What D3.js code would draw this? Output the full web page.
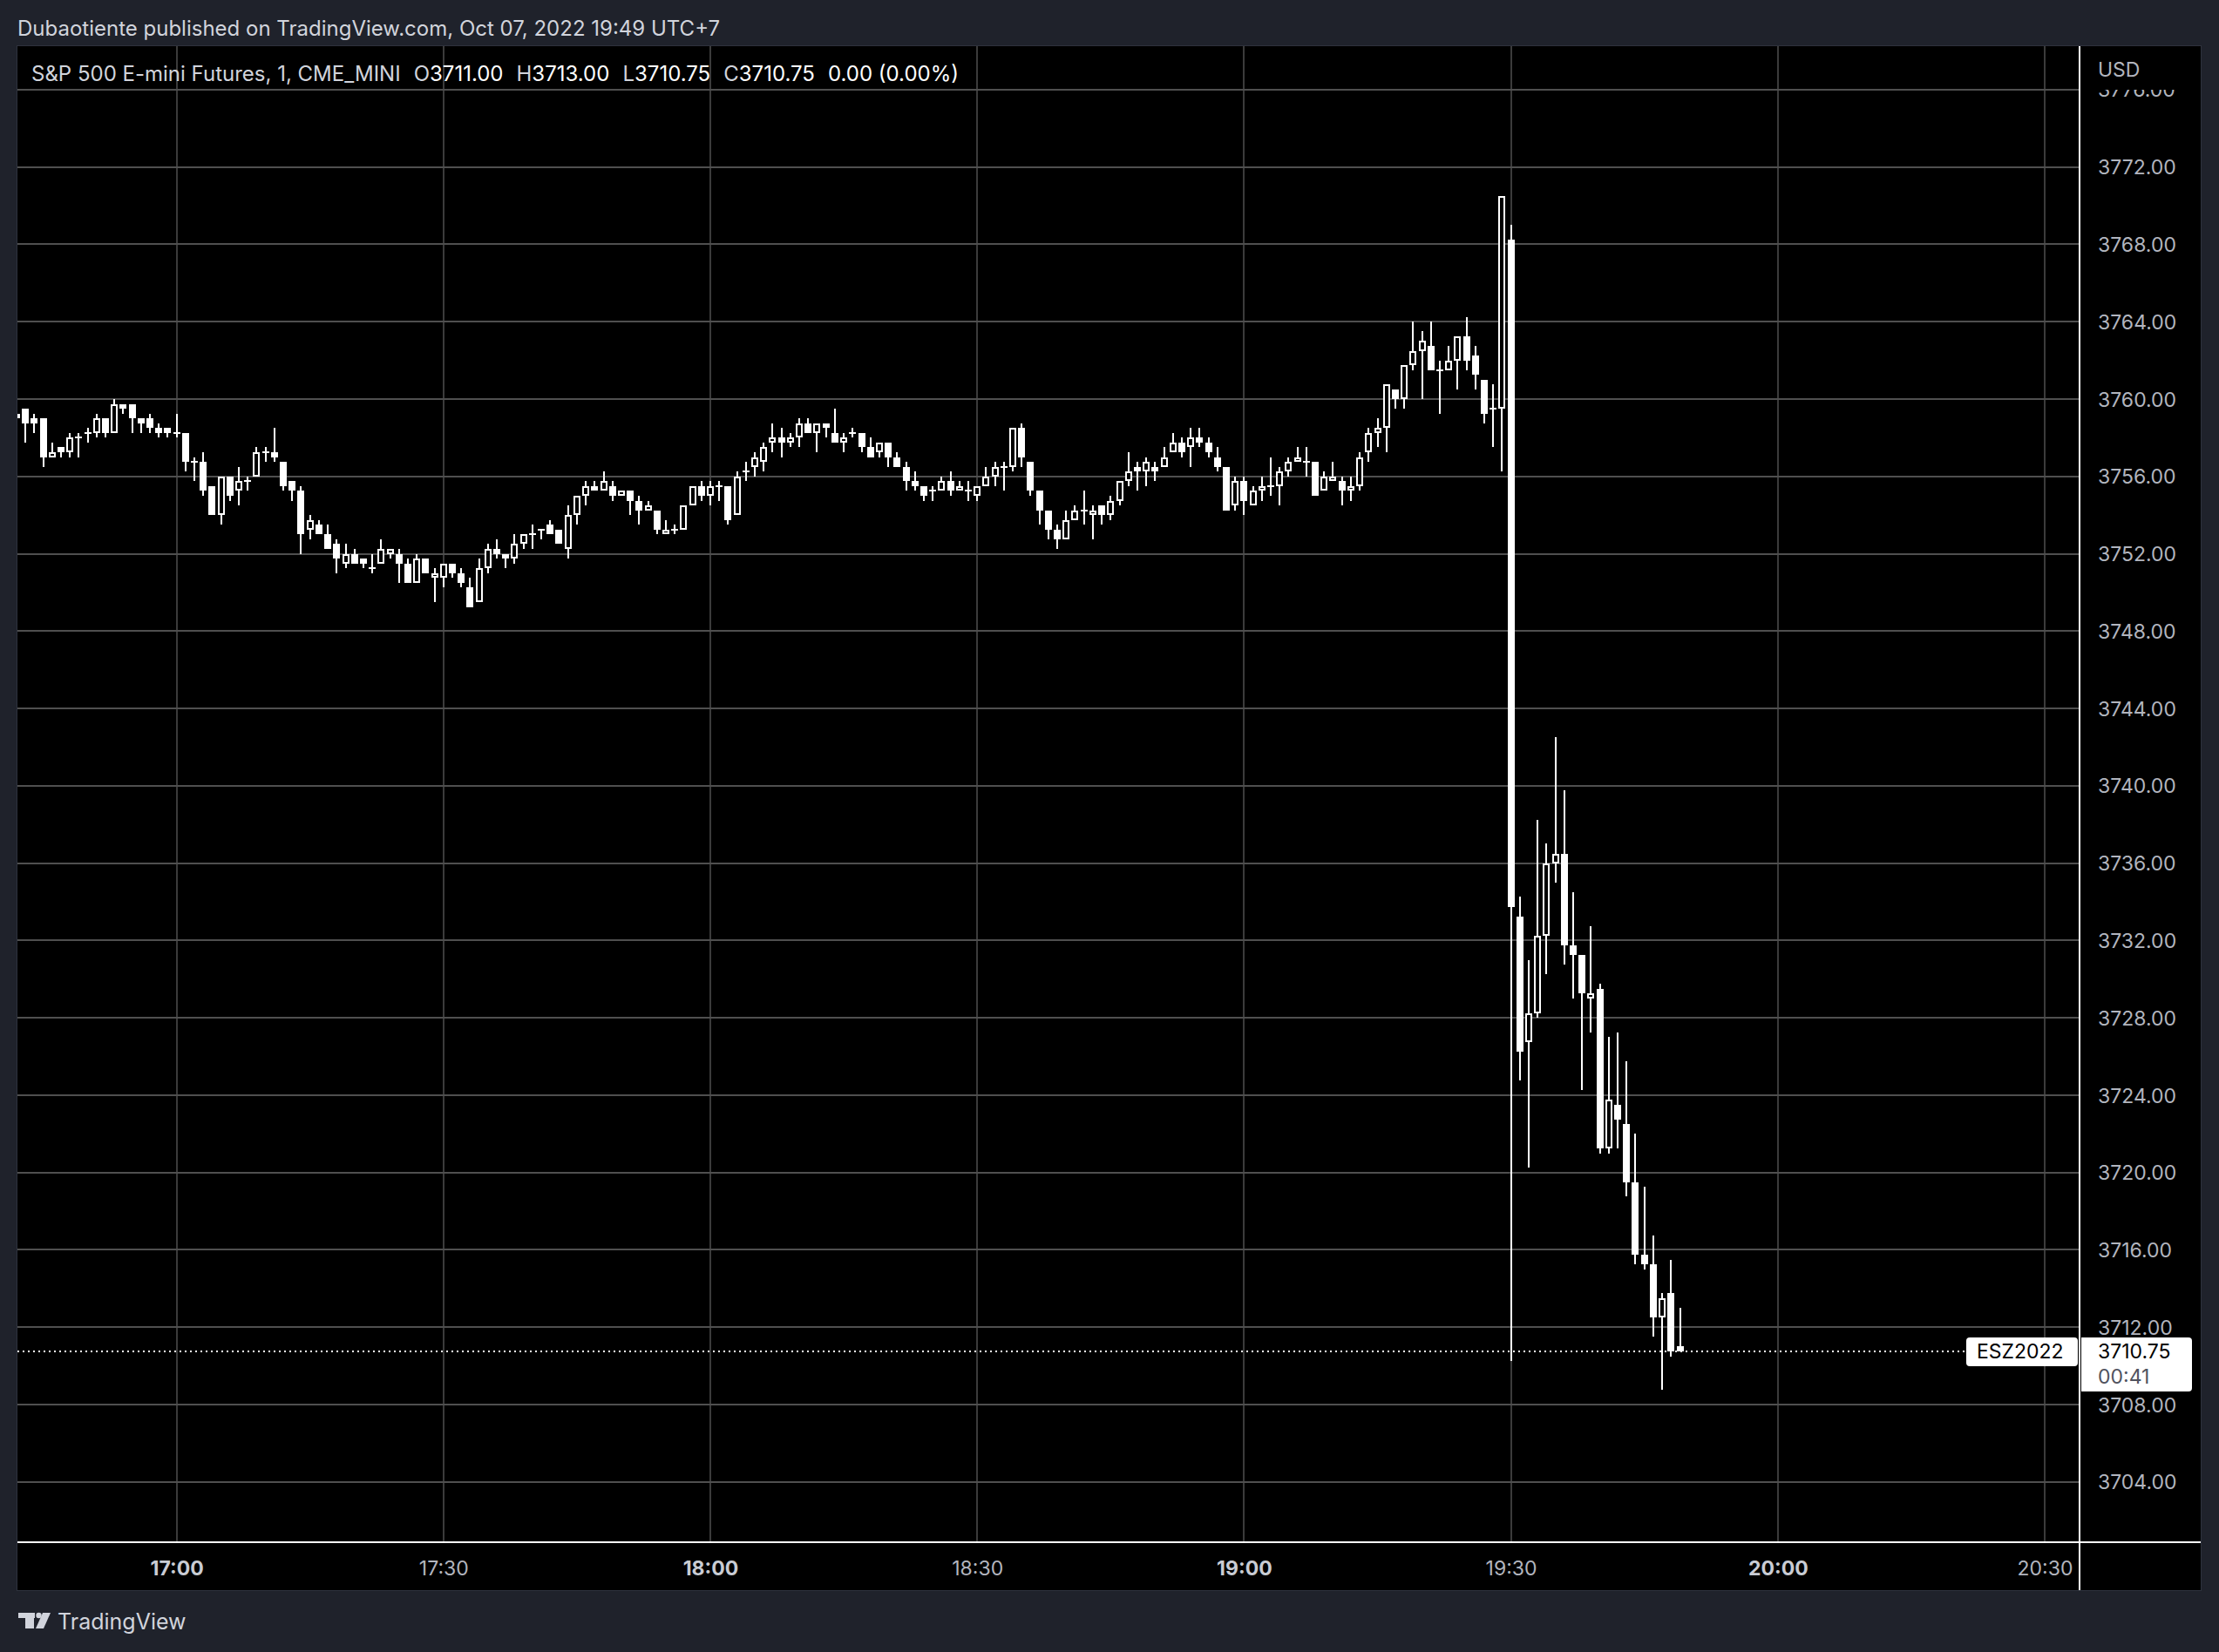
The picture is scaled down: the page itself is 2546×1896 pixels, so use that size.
<!DOCTYPE html>
<html><head><meta charset="utf-8">
<script src="https://cdn.jsdelivr.net/npm/d3@7"></script>
<style>html,body{margin:0;padding:0;background:#1f222b;} svg{display:block;}</style>
</head><body>
<svg id="chart" width="2546" height="1896"></svg>
<script>
// ---------- DATA (1-minute bars, first bar 16:42) ----------
const firstBar = "16:42";
const opens = [
3759.25,3759.5,3759.0,3759.0,3757.0,3757.5,3757.25,3758.0,3758.25,3758.25,3759.0,3758.25,3759.75,3759.75,3759.0,3759.0,3758.5,3758.5,
3758.25,3758.25,3756.75,3756.75,3755.5,3754.0,3756.0,3755.25,3755.75,3756.0,3757.25,3757.25,3756.75,3755.75,3755.25,3753.25,3753.5,3753.0,3752.5,3751.5,
3752.0,3751.75,3751.25,3751.5,3752.0,3752.0,3751.5,3750.5,3751.75,3750.75,3750.75,3751.5,3751.0,3750.25,3749.5,3751.25,3752.25,3752.0,3751.75,3752.5,
3753.0,3753.25,3753.5,3753.25,3752.25,3754.0,3755.0,3755.5,3755.25,3755.5,3755.0,3755.25,3754.75,3754.25,3754.25,3753.0,3753.25,3753.25,3754.5,3755.5,
3755.0,3755.5,3755.5,3754.0,3756.25,3756.5,3756.75,3757.75,3758.0,3757.75,3758.0,3758.75,3758.25,3758.75,3758.25,3757.75,3758.25,3758.25,3757.5,3757.25,
3757.75,3757.0,3756.5,3755.75,3755.5,3755.25,3755.25,3755.75,3755.25,3755.25,3755.0,3755.5,3756.0,3756.5,3756.5,3758.5,3756.75,3755.25,3754.25,3753.25,
3752.75,3753.75,3754.25,3754.0,3754.5,3754.0,3754.75,3755.75,3756.5,3756.25,3756.5,3756.5,3757.25,3757.75,3757.5,3758.0,3757.75,3757.0,3756.5,3754.5,
3755.75,3754.5,3755.25,3755.5,3755.5,3756.25,3756.75,3756.75,3756.75,3755.25,3755.75,3755.75,3755.25,3755.5,3757.25,3758.25,3758.5,3760.5,3760.0,3761.75,
3762.5,3762.75,3761.5,3761.5,3762.0,3763.25,3762.25,3761.0,3759.5,3759.5,3768.25,3733.25,3726.75,3728.25,3732.25,3736.0,3736.5,3731.75,3731.25,3729.0,
3729.5,3721.25,3723.5,3722.5,3719.5,3715.75,3715.25,3712.5,3713.75,3711.0];
const highs = [
3759.25,3759.5,3759.25,3759.0,3757.75,3757.5,3758.25,3758.25,3758.5,3759.25,3759.0,3760.0,3759.75,3759.75,3759.0,3759.25,3758.75,3758.5,
3759.25,3758.25,3757.0,3757.25,3755.5,3756.0,3756.0,3756.5,3756.0,3757.5,3757.5,3758.5,3756.75,3755.75,3755.5,3754.0,3753.75,3753.5,3752.75,3752.5,
3752.25,3751.75,3752.0,3752.75,3752.25,3752.25,3751.75,3752.0,3751.75,3751.25,3751.5,3751.5,3751.25,3750.75,3751.75,3752.5,3752.75,3752.0,3753.0,3753.0,
3753.5,3753.25,3753.75,3753.25,3754.5,3755.0,3755.75,3755.75,3756.25,3755.75,3755.25,3755.25,3755.0,3754.75,3754.25,3753.75,3753.5,3754.5,3755.5,3755.75,
3755.75,3755.75,3755.5,3756.25,3756.75,3757.25,3757.75,3758.75,3758.5,3758.25,3759.0,3759.0,3758.75,3758.75,3759.5,3758.25,3758.5,3758.25,3758.0,3757.75,
3757.75,3757.25,3756.75,3756.25,3755.5,3755.5,3756.0,3756.25,3755.75,3755.75,3755.5,3756.5,3756.75,3756.75,3758.5,3758.75,3756.75,3755.25,3754.25,3753.5,
3754.25,3754.5,3755.25,3754.5,3754.5,3755.0,3755.75,3757.25,3756.75,3757.0,3756.75,3757.5,3758.25,3758.0,3758.5,3758.5,3758.0,3757.5,3756.5,3756.0,
3756.0,3755.5,3756.0,3757.0,3756.5,3757.0,3757.5,3757.5,3756.75,3756.25,3756.75,3756.0,3756.0,3757.25,3758.5,3759.0,3760.75,3760.5,3761.75,3764.0,
3763.5,3764.0,3762.0,3762.75,3763.25,3764.25,3762.75,3761.0,3760.75,3770.5,3769.0,3734.25,3731.0,3738.25,3737.0,3742.5,3739.75,3734.5,3731.25,3732.75,
3729.75,3727.0,3727.25,3725.75,3722.0,3719.25,3716.75,3713.75,3715.5,3713.0];
const lows = [
3759.0,3757.75,3758.25,3756.5,3757.0,3757.0,3757.0,3757.0,3757.75,3758.0,3758.0,3758.25,3759.25,3758.25,3758.25,3758.25,3758.0,3758.0,
3758.0,3756.25,3755.75,3755.0,3754.0,3753.5,3754.75,3754.5,3755.25,3756.0,3756.75,3756.75,3755.25,3754.75,3752.0,3752.75,3753.0,3752.25,3751.0,3751.25,
3751.5,3751.25,3751.0,3751.5,3751.75,3750.5,3750.5,3750.5,3751.0,3749.5,3750.25,3750.75,3750.25,3749.25,3749.5,3751.0,3751.75,3751.25,3751.5,3752.25,
3752.25,3752.75,3753.0,3752.5,3751.75,3753.5,3754.5,3755.25,3755.25,3754.75,3755.0,3754.0,3753.5,3754.25,3753.0,3753.0,3753.0,3753.25,3754.5,3754.75,
3754.5,3754.75,3753.5,3754.0,3755.75,3756.0,3756.25,3757.25,3757.0,3757.5,3757.5,3758.25,3757.25,3758.0,3757.75,3757.25,3758.0,3757.25,3757.0,3757.0,
3756.5,3756.5,3755.25,3755.25,3754.75,3754.75,3755.25,3755.0,3755.25,3754.75,3754.75,3755.5,3755.5,3755.25,3756.25,3756.5,3755.0,3753.5,3752.75,3752.25,
3752.75,3753.75,3753.5,3752.75,3753.5,3753.75,3754.5,3755.5,3755.25,3755.5,3755.75,3756.5,3757.25,3757.0,3756.5,3757.5,3757.0,3756.25,3754.25,3754.25,
3754.0,3754.5,3754.75,3755.0,3754.5,3756.0,3756.75,3756.0,3755.0,3755.25,3755.75,3754.5,3754.75,3755.25,3756.75,3757.5,3757.25,3759.5,3759.5,3761.5,
3760.0,3761.5,3759.25,3761.5,3760.5,3761.5,3760.5,3758.75,3757.5,3756.25,3710.25,3724.75,3720.25,3728.0,3730.25,3735.0,3730.75,3729.0,3724.25,3727.25,
3721.0,3721.0,3721.25,3718.75,3715.25,3715.0,3711.5,3708.75,3710.5,3710.75];
const closes = [
3759.0,3758.75,3758.75,3757.0,3757.25,3757.25,3758.0,3758.0,3758.25,3759.0,3758.25,3759.75,3759.5,3759.0,3758.75,3758.5,3758.25,3758.25,
3758.25,3756.75,3756.75,3755.25,3754.0,3756.0,3755.0,3755.75,3755.75,3757.25,3757.25,3757.0,3755.5,3755.25,3753.0,3753.75,3753.0,3752.25,3751.75,3752.0,
3751.5,3751.5,3751.25,3752.25,3752.25,3751.5,3750.5,3751.75,3751.0,3751.0,3751.5,3751.0,3750.5,3749.25,3751.25,3752.25,3752.0,3751.75,3752.5,3753.0,
3753.0,3753.25,3753.0,3752.5,3754.0,3755.0,3755.5,3755.25,3755.75,3755.0,3755.25,3754.75,3754.25,3754.5,3753.25,3753.25,3753.25,3754.5,3755.5,3755.0,
3755.5,3755.5,3753.75,3756.0,3756.25,3757.0,3757.5,3758.0,3757.75,3758.0,3758.75,3758.25,3758.75,3758.5,3757.75,3758.0,3758.25,3757.5,3757.0,3757.75,
3757.0,3756.5,3755.75,3755.5,3755.0,3755.25,3755.75,3755.25,3755.5,3755.25,3755.5,3756.0,3756.5,3756.5,3758.5,3757.0,3755.25,3754.25,3753.25,3752.75,
3753.75,3754.25,3754.25,3754.25,3754.0,3754.75,3755.75,3756.25,3756.25,3756.75,3756.25,3757.0,3757.75,3757.25,3758.0,3757.75,3757.25,3756.5,3754.25,3755.75,
3754.75,3755.25,3755.5,3755.5,3756.25,3756.75,3757.0,3756.75,3755.0,3756.0,3756.0,3755.25,3755.5,3757.0,3758.25,3758.5,3760.75,3760.0,3761.75,3762.5,
3763.0,3761.5,3761.5,3762.0,3763.25,3762.0,3761.25,3759.25,3759.5,3770.5,3733.75,3726.25,3728.25,3732.25,3736.0,3736.5,3731.75,3731.25,3729.25,3729.25,
3721.25,3723.75,3722.75,3719.5,3715.75,3715.25,3712.5,3713.5,3710.75,3710.75];
const timeTicks = ["17:00","17:30","18:00","18:30","19:00","19:30","20:00","20:30"];
const priceTicks = [3776,3772,3768,3764,3760,3756,3752,3748,3744,3740,3736,3732,3728,3724,3720,3716,3712,3708,3704];
const lastPrice = 3710.75;
const symbol = "ESZ2022";
const countdown = "00:41";
const publishedLine = "Dubaotiente published on TradingView.com, Oct 07, 2022 19:49 UTC+7";
const seriesTitle = "S&P 500 E-mini Futures, 1, CME_MINI";
const legendItems = [["O","3711.00"],["H","3713.00"],["L","3710.75"],["C","3710.75"]];
const legendChange = "0.00 (0.00%)";

// ---------- LAYOUT ----------
const FONT = "Inter, 'Noto Sans', Roboto, sans-serif";
const pane = {left:20, top:53, right:2525, bottom:1825};
const plotRight = 2386, axisY = 1770;
const hm = s => { const [h,m] = s.split(":").map(Number); return new Date(2022, 9, 7, h, m); };

const x = d3.scaleTime().domain([hm("17:00"), hm("20:30")]).range([202.6, 2346]);
const y = d3.scaleLinear().domain([3704, 3772]).range([1700.8, 191.7]);

const t0 = hm(firstBar);
const bars = opens.map((o, i) => ({t: d3.timeMinute.offset(t0, i), o, h: highs[i], l: lows[i], c: closes[i]}));

const svg = d3.select("#chart");
svg.append("rect").attr("width", 2546).attr("height", 1896).attr("fill", "#1f222b");
svg.append("rect").attr("x", pane.left - 0.5).attr("y", pane.top - 0.5)
  .attr("width", pane.right - pane.left + 1).attr("height", pane.bottom - pane.top + 1)
  .attr("fill", "#000").attr("stroke", "#2e323d").attr("stroke-width", 1);

const defs = svg.append("defs");
defs.append("clipPath").attr("id", "plotClip").append("rect")
  .attr("x", pane.left).attr("y", pane.top).attr("width", plotRight - 1 - pane.left).attr("height", axisY - 1 - pane.top);
defs.append("clipPath").attr("id", "priceClip").append("rect")
  .attr("x", plotRight).attr("y", 103).attr("width", pane.right - plotRight).attr("height", axisY - 103);

// grid
const grid = svg.append("g").attr("clip-path", "url(#plotClip)");
const gridColor = "#4f4f4f";
grid.selectAll("line.h").data(priceTicks).join("line")
  .attr("x1", pane.left).attr("x2", plotRight)
  .attr("y1", d => Math.round(y(d))).attr("y2", d => Math.round(y(d)))
  .attr("stroke", gridColor).attr("stroke-width", 2);
grid.selectAll("line.v").data(timeTicks.map(hm)).join("line")
  .attr("y1", pane.top).attr("y2", axisY)
  .attr("x1", d => Math.round(x(d))).attr("x2", d => Math.round(x(d)))
  .attr("stroke", gridColor).attr("stroke-width", 1.5);

// current price dotted line
svg.append("line").attr("x1", pane.left).attr("x2", 2256)
  .attr("y1", Math.round(y(lastPrice))).attr("y2", Math.round(y(lastPrice)))
  .attr("stroke", "#fff").attr("stroke-width", 2).attr("stroke-dasharray", "2,4");

// candles
const cg = svg.append("g").attr("clip-path", "url(#plotClip)");
bars.forEach(b => {
  const cx = Math.round(x(b.t));
  const yh = Math.round(y(b.h)), yl = Math.round(y(b.l));
  cg.append("rect").attr("x", cx - 1).attr("y", yh).attr("width", 2).attr("height", Math.max(yl - yh, 1)).attr("fill", "#fff");
  const top = Math.round(y(Math.max(b.o, b.c))), bot = Math.round(y(Math.min(b.o, b.c)));
  if (b.c < b.o) {
    cg.append("rect").attr("x", cx - 4).attr("y", top).attr("width", 8).attr("height", Math.max(bot - top, 2)).attr("fill", "#fff");
  } else if (b.c > b.o) {
    cg.append("rect").attr("x", cx - 3).attr("y", top + 1).attr("width", 6).attr("height", Math.max(bot - top - 2, 1))
      .attr("fill", "#000").attr("stroke", "#fff").attr("stroke-width", 2);
  } else {
    cg.append("rect").attr("x", cx - 4).attr("y", top - 1).attr("width", 8).attr("height", 2).attr("fill", "#fff");
  }
});

// separators
svg.append("line").attr("x1", pane.left).attr("x2", pane.right).attr("y1", axisY).attr("y2", axisY)
  .attr("stroke", "#fff").attr("stroke-width", 2);
svg.append("line").attr("x1", plotRight).attr("x2", plotRight).attr("y1", pane.top).attr("y2", pane.bottom)
  .attr("stroke", "#fff").attr("stroke-width", 2);

// time axis
const xAxis = d3.axisBottom(x).tickValues(timeTicks.map(hm)).tickFormat(d3.timeFormat("%H:%M")).tickSize(0).tickPadding(0);
const gx = svg.append("g").attr("transform", "translate(0,1800)").call(xAxis);
gx.select(".domain").remove();
gx.selectAll("text").attr("y", 0).attr("dy", "0.35em")
  .attr("font-family", FONT).attr("font-size", 23)
  .attr("font-weight", d => d.getMinutes() === 0 ? 700 : 400)
  .attr("fill", d => d.getMinutes() === 0 ? "#c9ccd4" : "#b2b5be");

// price axis
const yAxis = d3.axisRight(y).tickValues(priceTicks).tickFormat(d3.format(".2f")).tickSize(0).tickPadding(0);
const gy = svg.append("g").attr("clip-path", "url(#priceClip)").append("g").attr("transform", "translate(2407,0)").call(yAxis);
gy.select(".domain").remove();
gy.selectAll("text").attr("font-family", FONT).attr("font-size", 23).attr("fill", "#b2b5be").attr("dy", "0.35em");

svg.append("text").attr("x", 2407).attr("y", 80).attr("dy", "0.35em").text("USD")
  .attr("font-family", FONT).attr("font-size", 23).attr("fill", "#b2b5be");

// last-price labels
const ly = y(lastPrice);
svg.append("rect").attr("x", 2256).attr("y", 1535).attr("width", 128).attr("height", 33).attr("rx", 4).attr("fill", "#fff");
svg.append("text").attr("x", 2268).attr("y", Math.round(ly)).attr("dy", "0.35em").text(symbol)
  .attr("font-family", FONT).attr("font-size", 23).attr("fill", "#000");
svg.append("path").attr("d", "M2388,1535 H2511 Q2515,1535 2515,1539 V1593 Q2515,1597 2511,1597 H2388 Z").attr("fill", "#fff");
svg.append("text").attr("x", 2407).attr("y", Math.round(ly)).attr("dy", "0.35em").text(d3.format(".2f")(lastPrice))
  .attr("font-family", FONT).attr("font-size", 23).attr("fill", "#000");
svg.append("text").attr("x", 2407).attr("y", 1580).attr("dy", "0.35em").text(countdown)
  .attr("font-family", FONT).attr("font-size", 23).attr("fill", "#50535e");

// header
svg.append("text").attr("x", 20).attr("y", 33).attr("dy", "0.35em").text(publishedLine)
  .attr("font-family", FONT).attr("font-size", 24).attr("fill", "#d1d4dc");
const leg = svg.append("text").attr("x", 36).attr("y", 85).attr("dy", "0.35em")
  .attr("font-family", FONT).attr("font-size", 24).attr("fill", "#d1d4dc");
leg.append("tspan").text(seriesTitle);
legendItems.forEach(([k, v]) => {
  leg.append("tspan").attr("dx", 15).text(k);
  leg.append("tspan").attr("fill", "#ffffff").text(v);
});
leg.append("tspan").attr("dx", 15).attr("fill", "#ffffff").text(legendChange);

// footer logo
const logo = svg.append("g").attr("fill", "#d1d4dc");
logo.append("rect").attr("x", 21).attr("y", 1851).attr("width", 19).attr("height", 6);
logo.append("rect").attr("x", 29).attr("y", 1851).attr("width", 10).attr("height", 18);
logo.append("circle").attr("cx", 44.5).attr("cy", 1854).attr("r", 3.2);
logo.append("path").attr("d", "M49,1851 H58 L50,1869 H41 Z");
svg.append("text").attr("x", 66).attr("y", 1861).attr("dy", "0.35em").text("TradingView")
  .attr("font-family", FONT).attr("font-size", 25).attr("fill", "#d1d4dc");
</script>
</body></html>
